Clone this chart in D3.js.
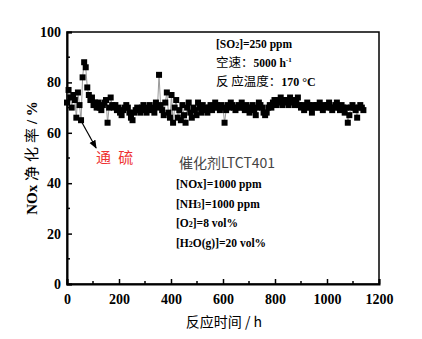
<!DOCTYPE html>
<html><head><meta charset="utf-8">
<script src="https://cdn.jsdelivr.net/npm/d3@7"></script>
<style>body{margin:0;background:#fff}</style>
</head><body>
<svg id="c" width="422" height="339"></svg>
<script>
const times = [0,6,12,18,24,30,36,42,48,54,60,66,72,78,84,90,96,102,108,114,120,126,132,138,144,150,156,162,168,174,180,186,192,198,204,210,216,222,228,234,240,246,252,258,264,270,276,282,288,294,300,306,312,318,324,330,336,342,348,354,360,366,372,378,384,390,396,402,408,414,420,426,432,438,444,450,456,462,468,474,480,486,492,498,504,510,516,522,528,534,540,546,552,558,564,570,576,582,588,594,600,606,612,618,624,630,636,642,648,654,660,666,672,678,684,690,696,702,708,714,720,726,732,738,744,750,756,762,768,774,780,786,792,798,804,810,816,822,828,834,840,846,852,858,864,870,876,882,888,894,900,906,912,918,924,930,936,942,948,954,960,966,972,978,984,990,996,1002,1008,1014,1020,1026,1032,1038,1044,1050,1056,1062,1068,1074,1080,1086,1092,1098,1104,1110,1116,1122,1128,1134,1140];
const values = [72,77,74,70,75,73,66,76,71,65,
82,88,86,78,75,73,74,71,72,70,
72,70,69,71,72,73,64,70,74,71,
70,71,69,70,68,67,69,70,71,70,
68,66,65,68,69,70,69,68,70,71,
69,68,70,71,69,70,68,72,70,83,
71,69,67,72,76,68,66,75,64,70,
73,66,69,65,71,67,64,70,72,68,
66,70,69,67,72,70,68,71,69,70,
68,70,71,69,70,72,71,70,69,71,
70,64,69,71,70,72,71,70,69,70,
71,70,72,70,69,71,70,68,70,71,
69,67,70,72,71,70,68,67,68,70,
71,70,72,73,71,73,72,74,71,73,
72,73,71,74,72,73,71,72,74,71,
70,71,69,70,72,71,70,68,71,70,
71,70,72,70,69,71,70,71,72,70,
69,70,71,72,70,69,71,70,68,70,
64,67,70,71,70,69,66,70,71,70,69];
const xTicks = [0,200,400,600,800,1000,1200];
const yTicks = [0,20,40,60,80,100];
const xMinor = [100,300,500,700,900,1100];
const yMinor = [10,30,50,70,90];

const svg = d3.select("#c");
const m = {l:67, r:379, t:32, b:284};
const x = d3.scaleLinear().domain([0,1200]).range([m.l, m.r]);
const y = d3.scaleLinear().domain([0,100]).range([m.b, m.t]);
const serif = "'Liberation Serif','Times New Roman',serif";
const cjk = "'Noto Sans CJK SC'";

svg.append("rect").attr("x",m.l).attr("y",m.t).attr("width",m.r-m.l).attr("height",m.b-m.t)
  .attr("fill","none").attr("stroke","#000").attr("stroke-width",1.5);

const xa = svg.append("g").attr("transform",`translate(0,${m.b})`)
  .call(d3.axisBottom(x).tickValues(xTicks).tickSize(-5).tickPadding(10).tickFormat(d3.format("d")));
const ya = svg.append("g").attr("transform",`translate(${m.l},0)`)
  .call(d3.axisLeft(y).tickValues(yTicks).tickSize(-5).tickPadding(6).tickFormat(d3.format("d")));
[xa,ya].forEach(a=>{
  a.select(".domain").attr("stroke-width",2);
  a.selectAll("line").attr("stroke-width",1.5);
  a.selectAll("text").attr("font-family",serif).attr("font-weight","bold").attr("font-size",14).attr("fill","#000");
});
svg.append("g").selectAll("line").data(xMinor).join("line")
  .attr("x1",d=>x(d)).attr("x2",d=>x(d)).attr("y1",m.b).attr("y2",m.b-3).attr("stroke","#000").attr("stroke-width",1.5);
svg.append("g").selectAll("line").data(yMinor).join("line")
  .attr("y1",d=>y(d)).attr("y2",d=>y(d)).attr("x1",m.l).attr("x2",m.l+3).attr("stroke","#000").attr("stroke-width",1.5);

const pts = times.map((t,i)=>[t,values[i]]);
svg.append("path").datum(pts).attr("fill","none").attr("stroke","#999").attr("stroke-width",1)
  .attr("d", d3.line().x(d=>x(d[0])).y(d=>y(d[1])));
svg.append("g").selectAll("rect").data(pts).join("rect")
  .attr("x",d=>x(d[0])-3).attr("y",d=>y(d[1])-3).attr("width",6).attr("height",6).attr("fill","#000");

svg.append("text").attr("x",224).attr("y",327).attr("text-anchor","middle")
  .attr("font-size",14).attr("font-family",cjk).attr("fill","#000")
  .text("反应时间 / h");
svg.append("text").attr("transform","translate(37,158) rotate(-90)").attr("text-anchor","middle")
  .attr("font-size",15).attr("font-family",serif).attr("font-weight","bold").attr("fill","#000")
  .call(t=>{t.append("tspan").text("NOx ");
    t.append("tspan").attr("font-family",cjk).attr("font-weight","normal").attr("letter-spacing",4).text("净化率");
    t.append("tspan").text("/ %");});

function sub(sel, parts){ parts.forEach(p=>{
  const ts = sel.append("tspan").text(p[0]);
  if(p[1]) ts.attr("font-size",8);
});}
const ann = [
  {x:216,y:48,parts:[["[SO"],["2",1],["]=250 ppm"]]},
  {x:176,y:188,parts:[["[NOx]=1000 ppm"]]},
  {x:176,y:208,parts:[["[NH"],["3",1],["]=1000 ppm"]]},
  {x:176,y:227,parts:[["[O"],["2",1],["]=8 vol%"]]},
  {x:176,y:247,parts:[["[H"],["2",1],["O(g)]=20 vol%"]]}
];
ann.forEach(a=>{
  const t = svg.append("text").attr("x",a.x).attr("y",a.y).attr("font-family",serif)
    .attr("font-weight","bold").attr("font-size",11.5).attr("fill","#000");
  sub(t,a.parts);
});
svg.append("text").attr("x",216).attr("y",67).attr("font-size",12.5).attr("fill","#000")
  .call(t=>{t.append("tspan").attr("font-family",cjk).text("空速：");
    t.append("tspan").attr("font-family",serif).attr("font-weight","bold").attr("font-size",11.5).text("5000 h");
    t.append("tspan").attr("font-family",serif).attr("font-weight","bold").attr("font-size",7).attr("dy",-5).text("-1");});
svg.append("text").attr("x",216).attr("y",86).attr("font-size",12.5).attr("fill","#000")
  .call(t=>{t.append("tspan").attr("font-family",cjk).text("反 应温度：");
    t.append("tspan").attr("font-family",serif).attr("font-weight","bold").attr("font-size",12).text("170 °C");});
svg.append("text").attr("x",179).attr("y",168).attr("font-size",14).attr("fill","#444")
  .attr("font-family",cjk).text("催化剂LTCT401");
svg.append("text").attr("x",96).attr("y",163).attr("font-size",15).attr("fill","#ee3333")
  .attr("font-family",cjk).attr("letter-spacing",2).text("通 硫");

svg.append("defs").append("marker").attr("id","ah").attr("viewBox","0 0 10 10").attr("refX",9).attr("refY",5)
  .attr("markerWidth",7).attr("markerHeight",7).attr("orient","auto")
  .append("path").attr("d","M0,1 L10,5 L0,9 Z").attr("fill","#000");
svg.append("line").attr("x1",x(58)).attr("y1",y(64)).attr("x2",x(112)).attr("y2",y(54))
  .attr("stroke","#000").attr("stroke-width",1.2).attr("marker-end","url(#ah)");
</script>
</body></html>
